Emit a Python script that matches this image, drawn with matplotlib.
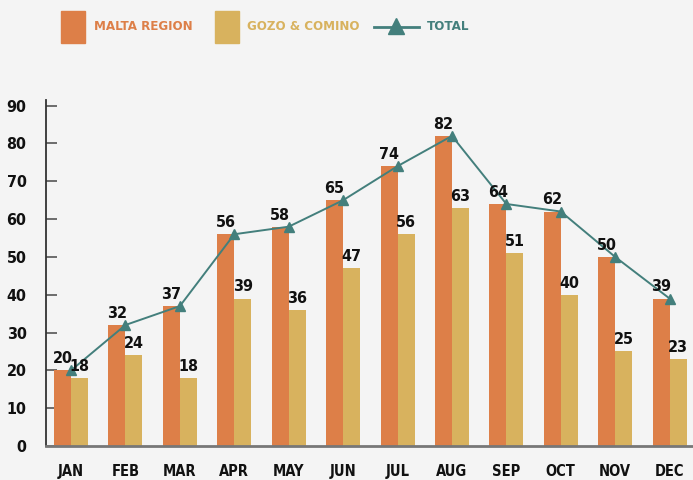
import matplotlib.pyplot as plt
import numpy as np
from matplotlib.patches import Rectangle
from matplotlib.lines import Line2D

# data
months = ['JAN', 'FEB', 'MAR', 'APR', 'MAY', 'JUN', 'JUL', 'AUG', 'SEP', 'OCT', 'NOV', 'DEC']
malta = [20, 32, 37, 56, 58, 65, 74, 82, 64, 62, 50, 39]
gozo = [18, 24, 18, 39, 36, 47, 56, 63, 51, 40, 25, 23]
total = [20, 32, 37, 56, 58, 65, 74, 82, 64, 62, 50, 39]

bg = '#f4f4f4'
c_malta = '#dd7f48'
c_gozo = '#d8b25e'
c_total = '#437f7c'

plt.rcParams['font.family'] = ['DejaVu Sans']
plt.rcParams['font.stretch'] = 'condensed'

fig = plt.figure(figsize=(6.93, 4.8), dpi=100, facecolor=bg)
ax = fig.add_axes([0.0664, 0.0708, 0.9336, 0.7209], facecolor=bg)

x = np.arange(len(months))
w = 0.3125
b1 = ax.bar(x - w/2, malta, w, color=c_malta, zorder=2)
b2 = ax.bar(x + w/2, gozo, w, color=c_gozo, zorder=2)
ax.plot(x, total, color=c_total, lw=1.4, marker='^', markersize=7, zorder=4)

# valeurs au-dessus des barres
for bars in (b1, b2):
    for bar in bars:
        h = bar.get_height()
        ax.annotate(f'{h:.0f}', (bar.get_x() + bar.get_width()/2, h),
                    xytext=(0, 3), textcoords='offset points',
                    ha='center', va='bottom', fontsize=11.5, fontweight='bold',
                    color='#111111', zorder=5)

ax.set_xlim(-0.46, 11.43)
ax.set_ylim(0, 91.5)
ax.set_yticks(range(0, 91, 10))
ax.set_xticks(x)
ax.set_xticklabels(months)

ax.tick_params(axis='y', direction='in', length=8, width=1.2, color='#555555',
               pad=14, labelsize=11.5)
ax.tick_params(axis='x', length=0, pad=13, labelsize=10.5)
for lab in ax.get_yticklabels() + ax.get_xticklabels():
    lab.set_fontweight('bold')
    lab.set_color('#111111')

ax.spines['top'].set_visible(False)
ax.spines['right'].set_visible(False)
ax.spines['left'].set_color('#333333')
ax.spines['left'].set_linewidth(1.3)
ax.spines['bottom'].set_color('#777777')
ax.spines['bottom'].set_linewidth(2)

# légende faite à la main
W, H = 693, 480
def fx(px):
    return px / W
def fy(py):
    return 1 - py / H

fig.add_artist(Rectangle((fx(61), fy(43)), fx(24), 32/H, color=c_malta, transform=fig.transFigure))
fig.text(fx(94), fy(27), 'MALTA REGION', color=c_malta, fontsize=9.5, fontweight='bold', va='center')
fig.add_artist(Rectangle((fx(215), fy(43)), fx(24), 32/H, color=c_gozo, transform=fig.transFigure))
fig.text(fx(247), fy(27), 'GOZO & COMINO', color=c_gozo, fontsize=9.5, fontweight='bold', va='center')
fig.add_artist(Line2D([fx(374), fx(419)], [fy(27), fy(27)], color=c_total, lw=2, transform=fig.transFigure))
fig.add_artist(Line2D([fx(396)], [fy(26)], color=c_total, marker='^', markersize=11, transform=fig.transFigure))
fig.text(fx(427), fy(27), 'TOTAL', color=c_total, fontsize=9.5, fontweight='bold', va='center')

fig.savefig('out.png', dpi=100, facecolor=bg)
